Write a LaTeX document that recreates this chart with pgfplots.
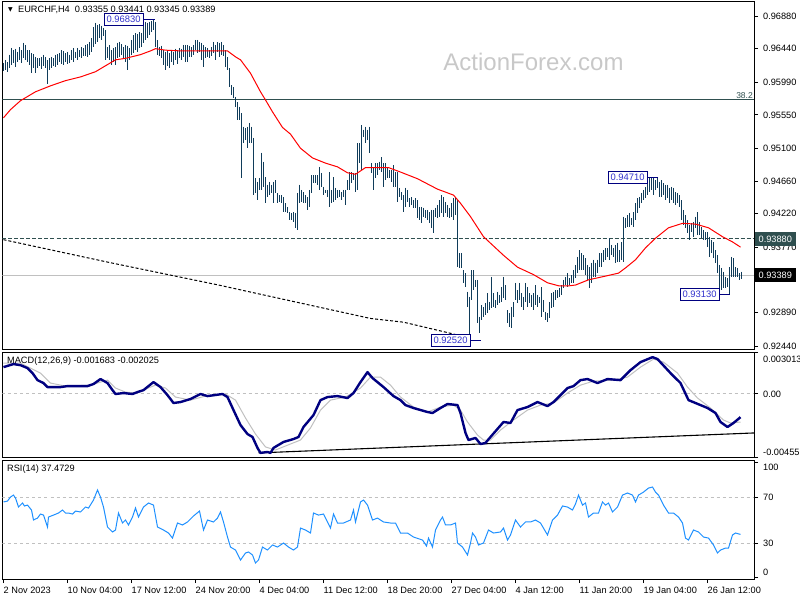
\documentclass[border=0pt]{standalone}
\usepackage{fontspec}
\setmainfont{Liberation Sans}
\newfontfamily\dejavu{DejaVu Sans}
\usepackage{pgfplots}
\usepackage{pgfplotstable}
\pgfplotsset{compat=1.18}
\definecolor{barcol}{RGB}{16,60,90}
\definecolor{dslate}{RGB}{47,79,79}
\definecolor{silverc}{RGB}{192,192,192}
\definecolor{navyc}{RGB}{0,0,128}
\definecolor{dodger}{RGB}{30,144,255}
\definecolor{lblblue}{RGB}{50,50,205}
\definecolor{wm}{RGB}{200,200,200}

\pgfplotstableread{
i h l
0 0.9625 0.9614
1 0.9629 0.9615
2 0.9626 0.9613
3 0.9636 0.9618
4 0.9645 0.9622
5 0.9642 0.9625
6 0.9644 0.9619
7 0.9640 0.9626
8 0.9646 0.9629
9 0.9642 0.9625
10 0.9652 0.9631
11 0.9649 0.9629
12 0.9642 0.9626
13 0.9642 0.9622
14 0.9638 0.9611
15 0.9637 0.9618
16 0.9633 0.9611
17 0.9631 0.9618
18 0.9631 0.9621
19 0.9633 0.9617
20 0.9636 0.9621
21 0.9633 0.9618
22 0.9629 0.9597
23 0.9631 0.9615
24 0.9633 0.9618
25 0.9631 0.9621
26 0.9636 0.9619
27 0.9637 0.9622
28 0.9638 0.9626
29 0.9642 0.9623
30 0.9641 0.9622
31 0.9638 0.9626
32 0.9640 0.9623
33 0.9636 0.9625
34 0.9642 0.9629
35 0.9645 0.9626
36 0.9640 0.9631
37 0.9645 0.9629
38 0.9642 0.9633
39 0.9646 0.9631
40 0.9645 0.9634
41 0.9649 0.9634
42 0.9650 0.9633
43 0.9653 0.9636
44 0.9658 0.9640
45 0.9673 0.9646
46 0.9679 0.9650
47 0.9676 0.9653
48 0.9677 0.9658
49 0.9675 0.9656
50 0.9672 0.9661
51 0.9669 0.9629
52 0.9646 0.9631
53 0.9649 0.9629
54 0.9642 0.9622
55 0.9645 0.9626
56 0.9646 0.9622
57 0.9652 0.9631
58 0.9653 0.9633
59 0.9650 0.9636
60 0.9646 0.9631
61 0.9649 0.9626
62 0.9648 0.9615
63 0.9645 0.9629
64 0.9656 0.9636
65 0.9662 0.9638
66 0.9665 0.9642
67 0.9664 0.9640
68 0.9666 0.9645
69 0.9665 0.9646
70 0.9676 0.9652
71 0.9680 0.9656
72 0.9679 0.9658
73 0.9680 0.9662
74 0.9681 0.9666
75 0.9683 0.9669
76 0.9680 0.9646
77 0.9656 0.9636
78 0.9646 0.9634
79 0.9648 0.9631
80 0.9642 0.9622
81 0.9640 0.9615
82 0.9642 0.9621
83 0.9638 0.9618
84 0.9642 0.9626
85 0.9640 0.9622
86 0.9644 0.9629
87 0.9642 0.9623
88 0.9645 0.9631
89 0.9644 0.9629
90 0.9649 0.9633
91 0.9649 0.9626
92 0.9649 0.9626
93 0.9648 0.9633
94 0.9646 0.9633
95 0.9649 0.9636
96 0.9656 0.9642
97 0.9656 0.9638
98 0.9653 0.9640
99 0.9652 0.9629
100 0.9649 0.9619
101 0.9646 0.9631
102 0.9645 0.9633
103 0.9642 0.9631
104 0.9646 0.9634
105 0.9653 0.9638
106 0.9649 0.9629
107 0.9653 0.9640
108 0.9652 0.9633
109 0.9653 0.9636
110 0.9649 0.9634
111 0.9642 0.9619
112 0.9633 0.9615
113 0.9618 0.9592
114 0.9595 0.9582
115 0.9592 0.9578
116 0.9579 0.9566
117 0.9572 0.9548
118 0.9566 0.9548
119 0.9557 0.9470
120 0.9539 0.9517
121 0.9537 0.9521
122 0.9539 0.9510
123 0.9544 0.9517
124 0.9539 0.9517
125 0.9524 0.9447
126 0.9470 0.9450
127 0.9465 0.9440
128 0.9470 0.9454
129 0.9504 0.9454
130 0.9492 0.9458
131 0.9471 0.9436
132 0.9461 0.9444
133 0.9465 0.9447
134 0.9461 0.9450
135 0.9465 0.9436
136 0.9467 0.9450
137 0.9450 0.9436
138 0.9447 0.9438
139 0.9447 0.9436
140 0.9444 0.9424
141 0.9436 0.9424
142 0.9431 0.9423
143 0.9424 0.9413
144 0.9423 0.9413
145 0.9424 0.9411
146 0.9423 0.9403
147 0.9450 0.9400
148 0.9461 0.9436
149 0.9454 0.9438
150 0.9451 0.9436
151 0.9447 0.9436
152 0.9444 0.9427
153 0.9454 0.9431
154 0.9474 0.9450
155 0.9474 0.9463
156 0.9474 0.9463
157 0.9474 0.9461
158 0.9485 0.9454
159 0.9477 0.9458
160 0.9458 0.9447
161 0.9454 0.9450
162 0.9454 0.9444
163 0.9478 0.9431
164 0.9454 0.9436
165 0.9471 0.9438
166 0.9457 0.9440
167 0.9454 0.9443
168 0.9454 0.9444
169 0.9451 0.9440
170 0.9454 0.9444
171 0.9454 0.9434
172 0.9467 0.9454
173 0.9478 0.9454
174 0.9478 0.9463
175 0.9477 0.9467
176 0.9477 0.9451
177 0.9517 0.9454
178 0.9517 0.9490
179 0.9541 0.9481
180 0.9535 0.9525
181 0.9539 0.9517
182 0.9535 0.9521
183 0.9539 0.9504
184 0.9490 0.9477
185 0.9483 0.9454
186 0.9490 0.9470
187 0.9490 0.9474
188 0.9492 0.9481
189 0.9498 0.9478
190 0.9490 0.9458
191 0.9490 0.9467
192 0.9483 0.9470
193 0.9481 0.9470
194 0.9481 0.9465
195 0.9487 0.9458
196 0.9478 0.9458
197 0.9478 0.9438
198 0.9457 0.9444
199 0.9451 0.9440
200 0.9447 0.9424
201 0.9457 0.9431
202 0.9454 0.9438
203 0.9443 0.9431
204 0.9444 0.9434
205 0.9440 0.9430
206 0.9443 0.9430
207 0.9440 0.9416
208 0.9431 0.9413
209 0.9431 0.9409
210 0.9430 0.9418
211 0.9427 0.9416
212 0.9427 0.9413
213 0.9424 0.9409
214 0.9427 0.9403
215 0.9427 0.9396
216 0.9430 0.9418
217 0.9434 0.9416
218 0.9440 0.9418
219 0.9447 0.9423
220 0.9444 0.9418
221 0.9438 0.9423
222 0.9434 0.9418
223 0.9430 0.9416
224 0.9436 0.9418
225 0.9443 0.9413
226 0.9444 0.9420
227 0.9440 0.9350
228 0.9369 0.9349
229 0.9369 0.9349
230 0.9346 0.9329
231 0.9342 0.9323
232 0.9317 0.9296
233 0.9310 0.9252
234 0.9346 0.9306
235 0.9346 0.9319
236 0.9333 0.9323
237 0.9333 0.9275
238 0.9283 0.9261
239 0.9299 0.9279
240 0.9296 0.9283
241 0.9302 0.9286
242 0.9315 0.9288
243 0.9303 0.9292
244 0.9337 0.9295
245 0.9315 0.9296
246 0.9306 0.9295
247 0.9317 0.9299
248 0.9313 0.9302
249 0.9323 0.9303
250 0.9337 0.9309
251 0.9326 0.9306
252 0.9292 0.9275
253 0.9288 0.9270
254 0.9296 0.9268
255 0.9303 0.9283
256 0.9329 0.9306
257 0.9319 0.9302
258 0.9329 0.9306
259 0.9315 0.9296
260 0.9310 0.9292
261 0.9329 0.9303
262 0.9323 0.9296
263 0.9315 0.9302
264 0.9313 0.9296
265 0.9315 0.9292
266 0.9326 0.9299
267 0.9313 0.9296
268 0.9310 0.9302
269 0.9323 0.9283
270 0.9306 0.9290
271 0.9290 0.9279
272 0.9288 0.9276
273 0.9303 0.9282
274 0.9315 0.9295
275 0.9317 0.9296
276 0.9319 0.9306
277 0.9319 0.9309
278 0.9322 0.9310
279 0.9326 0.9313
280 0.9333 0.9322
281 0.9337 0.9326
282 0.9342 0.9323
283 0.9335 0.9326
284 0.9339 0.9329
285 0.9346 0.9329
286 0.9353 0.9335
287 0.9364 0.9342
288 0.9373 0.9346
289 0.9369 0.9346
290 0.9366 0.9346
291 0.9362 0.9339
292 0.9353 0.9333
293 0.9350 0.9322
294 0.9356 0.9329
295 0.9360 0.9337
296 0.9356 0.9337
297 0.9360 0.9342
298 0.9369 0.9350
299 0.9369 0.9350
300 0.9373 0.9357
301 0.9376 0.9360
302 0.9376 0.9364
303 0.9389 0.9360
304 0.9380 0.9366
305 0.9376 0.9364
306 0.9380 0.9356
307 0.9383 0.9357
308 0.9373 0.9357
309 0.9384 0.9360
310 0.9418 0.9357
311 0.9416 0.9403
312 0.9420 0.9404
313 0.9423 0.9404
314 0.9416 0.9407
315 0.9424 0.9404
316 0.9436 0.9413
317 0.9443 0.9423
318 0.9444 0.9430
319 0.9450 0.9436
320 0.9454 0.9440
321 0.9458 0.9443
322 0.9465 0.9447
323 0.9470 0.9451
324 0.9471 0.9454
325 0.9470 0.9447
326 0.9467 0.9454
327 0.9470 0.9457
328 0.9465 0.9444
329 0.9467 0.9444
330 0.9463 0.9447
331 0.9461 0.9440
332 0.9461 0.9443
333 0.9457 0.9436
334 0.9458 0.9440
335 0.9457 0.9436
336 0.9451 0.9434
337 0.9450 0.9436
338 0.9447 0.9431
339 0.9440 0.9413
340 0.9427 0.9407
341 0.9420 0.9403
342 0.9413 0.9396
343 0.9407 0.9387
344 0.9409 0.9397
345 0.9411 0.9391
346 0.9418 0.9403
347 0.9424 0.9393
348 0.9411 0.9393
349 0.9404 0.9389
350 0.9400 0.9387
351 0.9397 0.9387
352 0.9397 0.9377
353 0.9391 0.9364
354 0.9387 0.9369
355 0.9384 0.9362
356 0.9373 0.9356
357 0.9366 0.9342
358 0.9353 0.9322
359 0.9349 0.9319
360 0.9344 0.9322
361 0.9337 0.9322
362 0.9335 0.9323
363 0.9350 0.9313
364 0.9364 0.9337
365 0.9362 0.9337
366 0.9350 0.9337
367 0.9349 0.9337
368 0.9342 0.9333
369 0.93441 0.93345
}\bars

\pgfplotsset{
  mt/.style={
    scale only axis, width=751.5pt,
    xmin=-0.5, xmax=375.25,
    axis line style={black, line width=0.9pt},
    ytick pos=right, yticklabel pos=right,
    tick align=outside, major tick length=4pt,
    tick style={black, line width=0.8pt},
    scaled y ticks=false, scaled x ticks=false,
    yticklabel style={anchor=base west, inner sep=0pt, xshift=5pt, yshift=-3.3pt,
      font=\fontsize{9.2}{11}\selectfont},
    xtick=\empty, clip mode=individual,
  },
}
\tikzset{
  lbl/.style={draw=navyc, fill=white, text=lblblue, line width=0.9pt,
    inner xsep=2.5pt, inner ysep=0pt, minimum height=12pt,
    font=\fontsize{9.4}{11}\selectfont},
  txt/.style={anchor=west, inner sep=0pt, font=\fontsize{9.2}{11}\selectfont},
}

\begin{document}
\begin{tikzpicture}
\path[use as bounding box] (0,0) rectangle (800pt,-600pt);

% ---------------- main price panel ----------------
\begin{axis}[mt, at={(2.5pt,-1pt)}, anchor=north west, height=348pt,
  ymin=0.92399, ymax=0.970815,
  ytick={0.9688,0.9644,0.9599,0.9555,0.9510,0.9466,0.9422,0.9377,0.9289,0.9244},
  yticklabels={0.96880,0.96440,0.95990,0.95550,0.95100,0.94660,0.94220,0.93770,0.92890,0.92440}]
\node[text=wm, font=\fontsize{24}{28}\selectfont] at (axis cs:265,0.9626) {ActionForex.com};
\addplot[dslate, line width=1pt] coordinates {(-0.5,0.9575) (375.25,0.9575)};
\addplot[dslate, line width=1pt, dash pattern=on 4pt off 2pt] coordinates {(-0.5,0.9388) (375.25,0.9388)};
\addplot[silverc, line width=1pt] coordinates {(-0.5,0.93389) (375.25,0.93389)};
\addplot[black, line width=1pt, dash pattern=on 3pt off 2pt] coordinates {
(0,0.9387) (53.5,0.9356) (107.5,0.9326) (183.5,0.9281) (200,0.9276) (222,0.9262) (229.5,0.9257)};
\addplot[draw=none, mark=none,
  error bars/.cd, y dir=minus, y explicit, error mark=none,
  error bar style={draw=barcol, line width=1.1pt, solid}]
  table[x=i, y=h, y error minus expr=\thisrow{h}-\thisrow{l}] {\bars};
\addplot[red, line width=1pt] coordinates {
(0,0.9551) (3.5,0.9562) (8.5,0.9574) (16,0.9586) (23.5,0.9594) (31,0.9601) (38.5,0.9606) (46,0.9613)
(51,0.9621) (56,0.9629) (61,0.9631) (68.5,0.9636) (73.5,0.9641) (76,0.9644) (81,0.9642) (88.5,0.9641)
(98.5,0.9641) (112,0.9641) (116,0.9633) (118.5,0.9629) (123.5,0.9611) (128.5,0.9586) (131,0.9575)
(134.5,0.9559) (139.5,0.9538) (143.5,0.9529) (148.5,0.9510) (154.5,0.9497) (161,0.9490) (167,0.9485)
(172,0.9477) (176,0.9475) (181,0.9484) (186,0.9484) (192.5,0.9484) (198.5,0.9478) (207,0.9469)
(217,0.9455) (225,0.9447) (228.5,0.9436) (233.5,0.9418) (240,0.9391) (250,0.9366) (257,0.9350)
(265,0.9340) (272,0.9329) (277.5,0.9325) (283,0.9325) (286,0.9326) (292.5,0.9333) (301,0.9338)
(307.5,0.9342) (311,0.9349) (316,0.9360) (321,0.9376) (326,0.9389) (332.5,0.9403) (339.5,0.9409)
(346,0.9408) (352.5,0.9403) (359.5,0.9391) (364.5,0.9384) (368.5,0.9377)};
% price labels
\draw[navyc, line width=0.9pt] (axis cs:70,0.9683) -- (axis cs:75.5,0.9683);
\node[lbl, anchor=east] at (axis cs:70,0.9683) {0.96830};
\draw[navyc, line width=0.9pt] (axis cs:322,0.9471) -- (axis cs:327,0.9471);
\node[lbl, anchor=east] at (axis cs:322,0.9471) {0.94710};
\draw[navyc, line width=0.9pt] (axis cs:233.5,0.9252) -- (axis cs:238.5,0.9252);
\node[lbl, anchor=east] at (axis cs:233.5,0.9252) {0.92520};
\draw[navyc, line width=0.9pt] (axis cs:358,0.9313) -- (axis cs:363,0.9313);
\node[lbl, anchor=east] at (axis cs:358,0.9313) {0.93130};
% level text and axis boxes
\node[anchor=south east, inner sep=1pt, text=dslate, font=\fontsize{8.5}{10}\selectfont]
  at (axis cs:375.25,0.9575) {38.2};
\node[fill=dslate, text=white, anchor=west, inner xsep=4pt, inner ysep=0pt, minimum height=14pt,
  xshift=0.5pt, font=\fontsize{9.2}{11}\selectfont] at (axis cs:375.25,0.9388) {0.93880};
\node[fill=black, text=white, anchor=west, inner xsep=4pt, inner ysep=0pt, minimum height=14pt,
  xshift=0.5pt, font=\fontsize{9.2}{11}\selectfont] at (axis cs:375.25,0.93389) {0.93389};
% header
\node[anchor=center, inner sep=0pt, font=\dejavu\fontsize{6}{7}\selectfont]
  at (rel axis cs:0,1) [xshift=8pt, yshift=-9pt] {▼};
\node[txt] at (rel axis cs:0,1) [xshift=15.5pt, yshift=-9pt]
  {EURCHF,H4\ \ 0.93355 0.93441 0.93345 0.93389};
\end{axis}

% ---------------- MACD panel ----------------
\begin{axis}[mt, at={(2.5pt,-352pt)}, anchor=north west, height=105pt,
  ymin=-0.004555, ymax=0.00302,
  ytick={-0.00455,0,0.003013},
  yticklabels={\raisebox{5pt}{-0.00455},0.00,\raisebox{-7pt}{0.003013}}]
\addplot[silverc, line width=1pt, dash pattern=on 3pt off 3pt] coordinates {(-0.5,0) (375.25,0)};
\addplot[black, line width=1.1pt] coordinates {(127.5,-0.00426) (375.25,-0.00282)};
\addplot[silverc, line width=1pt] coordinates {
(0,0.00222) (8.5,0.00222) (18.5,0.00150) (23.5,0.00078) (31,0.00056) (43.5,0.00063) (48.5,0.00085)
(52,0.00099) (56,0.00042) (61,0.00013) (66,0.00006) (76,0.00063) (81,0.00042) (86,-0.00023)
(93.5,-0.00045) (101,-0.00016) (111,-0.00001) (116,-0.00045) (121,-0.00174) (126,-0.00290)
(131,-0.00383) (136,-0.00405) (141,-0.00376) (148.5,-0.00333) (153.5,-0.00246) (158.5,-0.00117)
(163.5,-0.00045) (171,-0.00023) (178.5,0.00042) (183.5,0.00121) (188.5,0.00121) (193.5,0.00063)
(198.5,-0.00023) (205,-0.00095) (212,-0.00131) (218.5,-0.00095) (225,-0.00081) (228.5,-0.00117)
(232,-0.00203) (237,-0.00297) (240,-0.00333) (243.5,-0.00333) (248.5,-0.00261) (255,-0.00189)
(262,-0.00117) (268.5,-0.00081) (275,-0.00066) (282,0.00006) (288.5,0.00063) (295,0.00092)
(305,0.00099) (312,0.00121) (318.5,0.00193) (325,0.00251) (330,0.00229) (337,0.00150) (342,0.00049)
(347,-0.00030) (353.5,-0.00102) (360,-0.00189) (363.5,-0.00210) (368.5,-0.00203)};
\addplot[navyc, line width=2.4pt, line join=round] coordinates {
(0,0.00193) (5,0.00215) (8.5,0.00207) (12,0.00186) (14.5,0.00150) (17,0.00099) (20,0.00078)
(22,0.00049) (28.5,0.00049) (32,0.00056) (42,0.00056) (45,0.00071) (48.5,0.00107) (52,0.00078)
(54.5,0.00027) (56,-0.00001) (60,0.00006) (64.5,-0.00001) (67,0.00013) (70,0.00027) (75,0.00085)
(78.5,0.00049) (82,-0.00009) (85,-0.00066) (88.5,-0.00059) (93.5,-0.00037) (98.5,-0.00001)
(102,-0.00016) (109.5,-0.00001) (112,-0.00023) (115,-0.00117) (118.5,-0.00225) (122,-0.00290)
(124.5,-0.00311) (127,-0.00390) (128.5,-0.00426) (132,-0.00419) (133.5,-0.00426) (135,-0.00390)
(140,-0.00347) (145,-0.00326) (147.5,-0.00311) (150,-0.00239) (155,-0.00153) (158.5,-0.00045)
(162,-0.00023) (167,-0.00016) (172,-0.00030) (175,0.00006) (178.5,0.00085) (182,0.00157)
(184.5,0.00114) (190,0.00049) (195,-0.00016) (198.5,-0.00045) (201,-0.00081) (205,-0.00102)
(212,-0.00131) (214.5,-0.00138) (218.5,-0.00102) (222,-0.00073) (227,-0.00081) (228.5,-0.00138)
(231,-0.00282) (232.5,-0.00333) (236,-0.00318) (238.5,-0.00362) (241,-0.00354) (243.5,-0.00311)
(250,-0.00203) (253.5,-0.00210) (257,-0.00117) (262,-0.00095) (267,-0.00059) (272,-0.00088)
(275,-0.00059) (282,0.00042) (285,0.00056) (288.5,0.00099) (292,0.00107) (297,0.00078)
(302,0.00107) (308.5,0.00099) (313.5,0.00171) (318.5,0.00229) (324.5,0.00265) (327,0.00251)
(333.5,0.00150) (338.5,0.00078) (342.5,-0.00045) (346,-0.00066) (352,-0.00102) (356,-0.00138)
(358.5,-0.00203) (362,-0.00239) (365,-0.00210) (368.5,-0.00168)};
\node[txt] at (rel axis cs:0,1) [xshift=4.5pt, yshift=-8.7pt] {MACD(12,26,9) -0.001683 -0.002025};
\end{axis}

% ---------------- RSI panel ----------------
\begin{axis}[mt, at={(2.5pt,-460pt)}, anchor=north west, height=119pt,
  ymin=-1.3, ymax=102.2,
  ytick={0,30,70,100},
  yticklabels={\raisebox{5.5pt}{0},30,70,\raisebox{-4.5pt}{100}},
  xtick={0,32,64,96,128,160,192,224,256,288,320,352},
  xtick pos=bottom, xticklabel pos=bottom,
  xticklabels={2 Nov 2023,10 Nov 04:00,17 Nov 12:00,24 Nov 20:00,4 Dec 04:00,11 Dec 12:00,18 Dec 20:00,27 Dec 04:00,4 Jan 12:00,11 Jan 20:00,19 Jan 04:00,26 Jan 12:00},
  xticklabel style={anchor=north west, inner sep=0pt, xshift=0pt, yshift=-4pt,
    font=\fontsize{9.2}{11}\selectfont}]
\addplot[silverc, line width=1pt, dash pattern=on 3pt off 3pt] coordinates {(-0.5,70) (375.25,70)};
\addplot[silverc, line width=1pt, dash pattern=on 3pt off 3pt] coordinates {(-0.5,30) (375.25,30)};
\addplot[dodger, line width=1pt] coordinates {
(0,65.7)(2,66.5)(3.5,70.0)(5,71.7)(6,69.1)(7.5,61.3)(9.5,64.8)(10.5,62.2)(12,63.0)(14,58.7)(15,50.0)
(17,51.7)(18.5,55.2)(20,54.3)(22,43.9)(22.5,52.6)(25,54.3)(27.5,56.1)(29.5,58.7)(31,56.1)(32.5,56.1)
(34.5,55.2)(36,57.8)(38.5,57.0)(41,61.3)(42.5,60.4)(45,67.4)(47,76.1)(48.5,70.0)(50,61.3)(52,43.9)
(54.5,39.6)(56,41.3)(57.5,56.1)(59.5,47.4)(61,50.0)(62.5,45.7)(64.5,52.6)(66,60.4)(67.5,52.6)(70,61.3)
(72.5,64.8)(75,63.0)(77,43.9)(80,41.3)(82.5,38.7)(84.5,34.3)(87,47.4)(89.5,45.7)(92,48.3)(95,53.5)
(98,57.8)(100,41.3)(102,50.0)(105,48.3)(107,51.7)(108.5,57.0)(110,48.3)(112,35.2)(113.5,26.5)
(116,23.9)(118.5,15.2)(121,21.3)(122.5,22.2)(124.5,19.6)(126,12.6)(127.5,15.2)(129.5,26.5)(132,23.9)
(134.5,28.3)(137,26.5)(140,30.0)(142.5,26.5)(145,23.9)(147,26.5)(148.5,43.0)(151,41.3)(153.5,38.7)
(155,56.1)(157.5,54.3)(160,55.2)(162,48.3)(163.5,43.0)(165,55.2)(167,47.4)(170,47.4)(173.5,50.0)
(175,58.7)(176,48.3)(178.5,65.7)(180,67.4)(182,63.0)(184.5,50.0)(187,51.7)(190,48.3)(193.5,47.4)
(196,47.4)(198.5,38.7)(202,38.7)(205,35.2)(209.5,32.6)(211.5,27.4)(212.5,34.3)(214.5,26.5)(216,41.3)
(218.5,50.0)(219.5,52.6)(221,45.7)(223.5,45.7)(226,47.4)(227,30.0)(229.5,26.5)(232,19.6)(233.5,30.0)
(234.5,38.7)(236,35.2)(237.5,28.3)(240,30.0)(242.5,41.3)(245,38.7)(248.5,39.6)(250,43.0)(252,32.6)
(253.5,37.0)(256,50.0)(258.5,43.9)(261,48.3)(263.5,48.3)(266,50.0)(268.5,47.4)(272,37.0)(274.5,50.0)
(277,54.3)(279.5,62.2)(282,61.3)(284.5,58.7)(286,63.9)(287.5,71.7)(289.5,63.0)(291,64.8)(292.5,52.6)
(295,56.1)(297.5,56.1)(299.5,65.7)(301,63.0)(302.5,64.8)(304.5,57.0)(307,61.3)(309.5,71.7)(312,73.5)
(314.5,71.7)(316,65.7)(317.5,71.7)(320,74.3)(322.5,77.8)(324.5,78.7)(326,74.3)(327.5,71.7)(330,63.0)
(332.5,56.1)(335,56.1)(337.5,52.6)(339.5,47.4)(341,34.3)(342.5,32.6)(345,41.3)(347.5,39.6)(350,35.2)
(352.5,34.3)(355,28.3)(357,21.3)(358.5,23.9)(361,25.6)(362.5,25.6)(364.5,37.0)(366,38.7)(368.5,37.5)};
\node[txt] at (rel axis cs:0,1) [xshift=4.5pt, yshift=-9.3pt] {RSI(14) 37.4729};
\end{axis}
\end{tikzpicture}
\end{document}
